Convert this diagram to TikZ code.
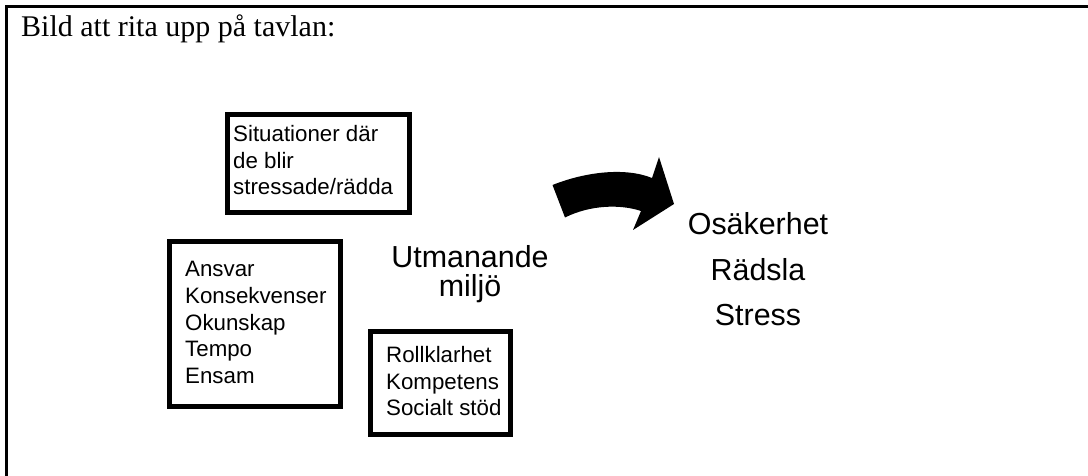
\documentclass[tikz,border=0pt]{standalone}
\usepackage{fontspec}
\setmainfont{Liberation Serif}
\newfontfamily\arialfont{Liberation Sans}
\begin{document}
\begin{tikzpicture}[x=1pt,y=-1pt,
  frameline/.style={line width=2.5pt},
  factorbox/.style={draw,line width=5pt,inner sep=0pt,rectangle},
  boxtext/.style={inner sep=0pt,anchor=north west,align=left,
    font=\arialfont\fontsize{22.3}{26.8}\selectfont},
  bigtext/.style={inner sep=0pt,anchor=base,align=center,
    font=\arialfont\fontsize{30.4}{30}\selectfont}]
  \useasboundingbox (0,0) rectangle (1088,476);
  \fill[white] (0,0) rectangle (1088,476);

  % page frame: top and left edges
  \coordinate (frameTR) at (1088,6.5);
  \coordinate (frameTL) at (6.5,6.5);
  \coordinate (frameBL) at (6.5,476);
  \draw[frameline] (frameTR) -- (frameTL) -- (frameBL);

  % heading
  \node[inner sep=0pt,anchor=base west,font=\fontsize{30}{36}\selectfont]
    (heading) at (21,36.7) {Bild att rita upp på tavlan:};

  % framed factor boxes
  \node[factorbox,minimum width=181.5pt,minimum height=98.5pt] (situbox) at (318.5,163.3) {};
  \node[factorbox,minimum width=171pt,minimum height=164.5pt] (riskbox) at (255,323.8) {};
  \node[factorbox,minimum width=140pt,minimum height=102.5pt] (resbox) at (440.5,382.8) {};

  \node[boxtext] (situtext) at (233,125) {Situationer där\\de blir\\stressade/rädda};
  \node[boxtext] (risktext) at (185,261) {Ansvar\\Konsekvenser\\Okunskap\\Tempo\\Ensam};
  \node[boxtext] (restext) at (386,346) {Rollklarhet\\Kompetens\\Socialt stöd};

  % centre text
  \node[bigtext] (env1) at (470,267.5) {Utmanande};
  \node[bigtext] (env2) at (470,296.5) {miljö};

  % curved block arrow
  \fill (552.5,185) .. controls (585,172) and (625,167) .. (652,178)
        -- (659,157) -- (674,204) -- (633,230) -- (641,211)
        .. controls (620,204) and (590,205) .. (565,217.5) -- cycle;

  % outcome text
  \node[bigtext] (out1) at (758,235) {Osäkerhet};
  \node[bigtext] (out2) at (758,280) {Rädsla};
  \node[bigtext] (out3) at (758,325) {Stress};
\end{tikzpicture}
\end{document}
